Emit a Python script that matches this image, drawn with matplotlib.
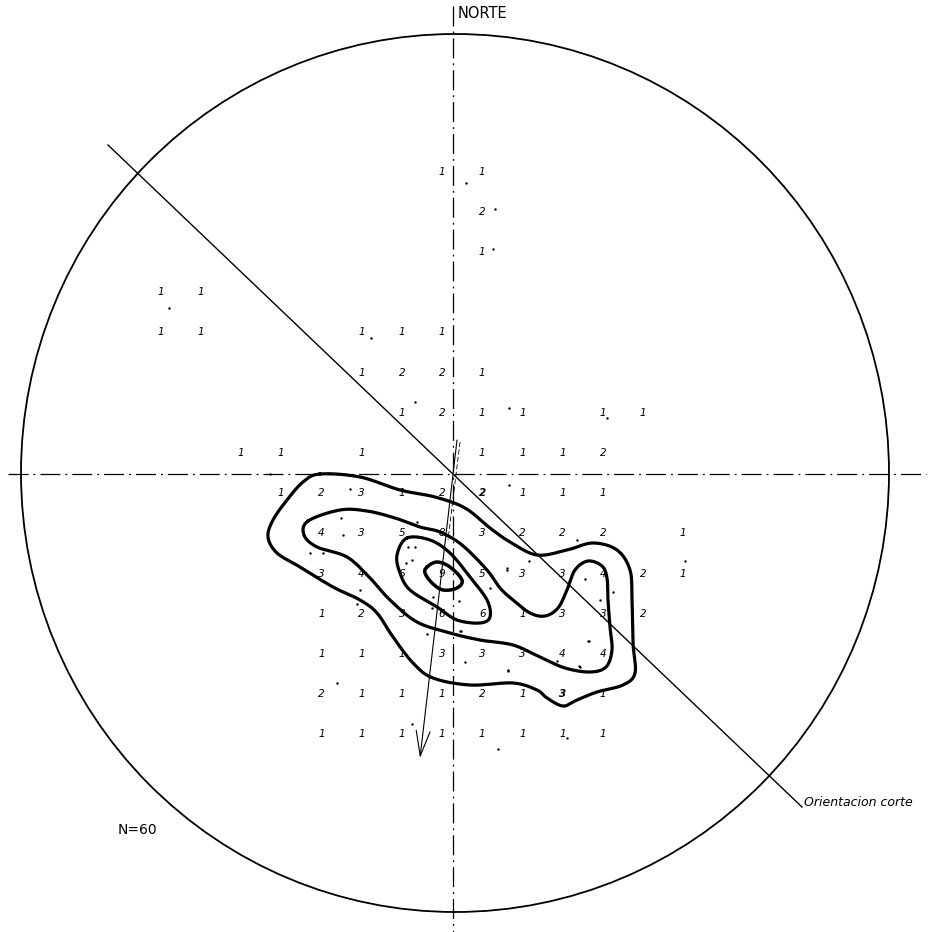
import numpy as np
import matplotlib
matplotlib.use("Agg")
import matplotlib.pyplot as plt
from matplotlib.patches import Ellipse

# ---------------- data (pixel-like coordinate frame of the stereonet sheet) -------------
# counting grid: column/row indices and counts
grid_x0, grid_y0, grid_step = 442, 453, 40.2
count_rows = [-7, -7, -6, -5,
              -4, -4,
              -3, -3, -3, -3, -3,
              -2, -2, -2, -2,
              -1, -1, -1, -1, -1, -1,
              0, 0, 0, 0, 0, 0, 0,
              1, 1, 1, 1, 1, 1, 1, 1, 1,
              2, 2, 2, 2, 2, 2, 2, 2, 2,
              3, 3, 3, 3, 3, 3, 3, 3, 3, 3,
              4, 4, 4, 4, 4, 4, 4, 4, 4,
              5, 5, 5, 5, 5, 5, 5, 5,
              6, 6, 6, 6, 6, 6, 6, 6,
              7, 7, 7, 7, 7, 7, 7, 7]
count_cols = [0, 1, 1, 1,
              -7, -6,
              -7, -6, -2, -1, 0,
              -2, -1, 0, 1,
              -1, 0, 1, 2, 4, 5,
              -5, -4, -2, 1, 2, 3, 4,
              -4, -3, -2, -1, 0, 1, 2, 3, 4,
              -3, -2, -1, 0, 1, 2, 3, 4, 6,
              -3, -2, -1, 0, 1, 2, 3, 4, 5, 6,
              -3, -2, -1, 0, 1, 2, 3, 4, 5,
              -3, -2, -1, 0, 1, 2, 3, 4,
              -3, -2, -1, 0, 1, 2, 3, 4,
              -3, -2, -1, 0, 1, 2, 3, 4]
count_vals = [1, 1, 2, 1,
              1, 1,
              1, 1, 1, 1, 1,
              1, 2, 2, 1,
              1, 2, 1, 1, 1, 1,
              1, 1, 1, 1, 1, 1, 2,
              1, 2, 3, 1, 2, 2, 1, 1, 1,
              4, 3, 5, 8, 3, 2, 2, 2, 1,
              3, 4, 6, 9, 5, 3, 3, 4, 2, 1,
              1, 2, 3, 6, 6, 1, 3, 3, 2,
              1, 1, 1, 3, 3, 3, 4, 4,
              2, 1, 1, 1, 2, 1, 3, 1,
              1, 1, 1, 1, 1, 1, 1, 1]
bold_cells = [(1, 1), (6, 3)]   # (row, col) of the over-inked digits

# projected poles (small dots)
dots_x = [466, 495, 493, 169, 371, 415, 509, 607, 350, 509, 341, 343, 417, 577, 685,
          310, 323, 408, 415, 406, 412, 360, 357, 433, 432, 459, 490, 507, 427, 460,
          529, 507, 585, 613, 600, 589, 557, 579, 508, 337, 412, 498, 567, 465, 508,
          461, 588, 580, 270]
dots_y = [183, 209, 249, 308, 338, 402, 408, 418, 489, 485, 518, 535, 522, 540, 561,
          553, 553, 547, 547, 563, 560, 590, 604, 597, 608, 601, 588, 568, 634, 631,
          561, 570, 579, 592, 600, 641, 661, 666, 671, 683, 724, 749, 738, 662, 670,
          631, 641, 667, 474]

# hand-drawn contour lines (outer -> inner)
contour_outer_x = [320, 360, 400, 435, 465, 490, 510, 537, 567, 593, 617, 630, 632, 633, 635,
                   623, 597, 577, 563, 547, 537, 513, 470, 433, 413, 393, 377, 360, 333, 300,
                   277, 268, 273, 287, 303]
contour_outer_y = [474, 477, 490, 497, 508, 528, 542, 555, 550, 543, 550, 570, 600, 643, 673,
                   685, 692, 700, 706, 698, 690, 683, 685, 678, 663, 637, 613, 600, 587, 567,
                   553, 537, 520, 500, 482]
contour_mid_x = [308, 340, 367, 395, 420, 440, 462, 487, 500, 513, 530, 545, 558, 567, 575,
                 588, 602, 607, 608, 610, 612, 606, 590, 565, 540, 513, 480, 450, 417, 390,
                 370, 347, 317, 304]
contour_mid_y = [521, 510, 511, 518, 527, 532, 545, 570, 588, 600, 613, 616, 608, 590, 570,
                 561, 566, 578, 600, 627, 650, 667, 672, 668, 657, 645, 640, 633, 622, 600,
                 578, 557, 547, 535]
contour_in_x = [407, 430, 450, 470, 487, 490, 480, 457, 437, 410, 400, 397]
contour_in_y = [538, 540, 553, 577, 600, 617, 623, 620, 607, 590, 573, 555]
contour_core_x = [427, 437, 450, 462, 457, 443, 432, 425]
contour_core_y = [567, 562, 567, 580, 588, 590, 583, 573]

# net geometry
net_cx, net_cy, net_rx, net_ry = 455, 473, 434, 439
section_line = ([108, 802], [145, 807])
mean_arrow = ((457, 440), (420, 758))


def smooth_closed(xs, ys, n=20):
    """Periodic Catmull-Rom smoothing of a hand-drawn closed curve."""
    p = np.column_stack([xs, ys]).astype(float)
    m = len(p)
    out = []
    t = np.linspace(0, 1, n, endpoint=False)[:, None]
    for i in range(m):
        p0, p1, p2, p3 = p[(i - 1) % m], p[i], p[(i + 1) % m], p[(i + 2) % m]
        seg = 0.5 * ((2 * p1) + (-p0 + p2) * t + (2 * p0 - 5 * p1 + 4 * p2 - p3) * t ** 2
                     + (-p0 + 3 * p1 - 3 * p2 + p3) * t ** 3)
        out.append(seg)
    out = np.vstack(out)
    out = np.vstack([out, out[:1]])
    return out[:, 0], out[:, 1]


fig = plt.figure(figsize=(9.31, 9.32), dpi=100)
ax = fig.add_axes([0, 0, 1, 1])
ax.set_xlim(0, 931)
ax.set_ylim(932, 0)
ax.axis("off")

# primitive circle
ax.add_patch(Ellipse((net_cx, net_cy), 2 * net_rx, 2 * net_ry, fill=False,
                     lw=1.3, color="black"))

# N-S and E-W dash-dot axes
dashdot = (0, (16, 4, 1.5, 4))
ax.plot([453, 453], [6, 932], color="black", lw=0.9, linestyle=dashdot)
ax.plot([8, 926], [474, 474], color="black", lw=0.9, linestyle=dashdot)

# section orientation line
ax.plot(section_line[0], section_line[1], color="black", lw=1.0)

# mean direction arrow (double-stroked shaft)
ax.annotate("", xy=mean_arrow[1], xytext=mean_arrow[0],
            arrowprops=dict(arrowstyle="->,head_length=1.8,head_width=0.5",
                            lw=0.8, color="black", shrinkA=0, shrinkB=0))
ax.plot([460, 448], [442, 540], color="black", lw=0.6, linestyle=(0, (6, 3)))

# contours
for cx, cy, lw in [(contour_outer_x, contour_outer_y, 2.3),
                   (contour_mid_x, contour_mid_y, 2.3),
                   (contour_in_x, contour_in_y, 2.3),
                   (contour_core_x, contour_core_y, 2.5)]:
    sx, sy = smooth_closed(cx, cy)
    ax.plot(sx, sy, color="black", lw=lw, solid_capstyle="round")

# dots
ax.scatter(dots_x, dots_y, s=3, color="black", linewidths=0)

# grid counts
for r, c, v in zip(count_rows, count_cols, count_vals):
    x = grid_x0 + c * grid_step
    y = grid_y0 + r * grid_step
    bold = (r, c) in bold_cells
    ax.text(x, y, str(v), ha="center", va="center", fontsize=7.5,
            fontweight="bold" if bold else "normal", style="italic",
            family="DejaVu Sans", color="black")

# labels
ax.text(458, 14, "NORTE", ha="left", va="center", fontsize=10.5, family="DejaVu Sans")
ax.text(804, 803, "Orientacion corte", ha="left", va="center", fontsize=9,
        family="DejaVu Sans", style="italic")
ax.text(118, 830, "N=60", ha="left", va="center", fontsize=10, family="DejaVu Sans")

fig.savefig("out.png", dpi=100)
